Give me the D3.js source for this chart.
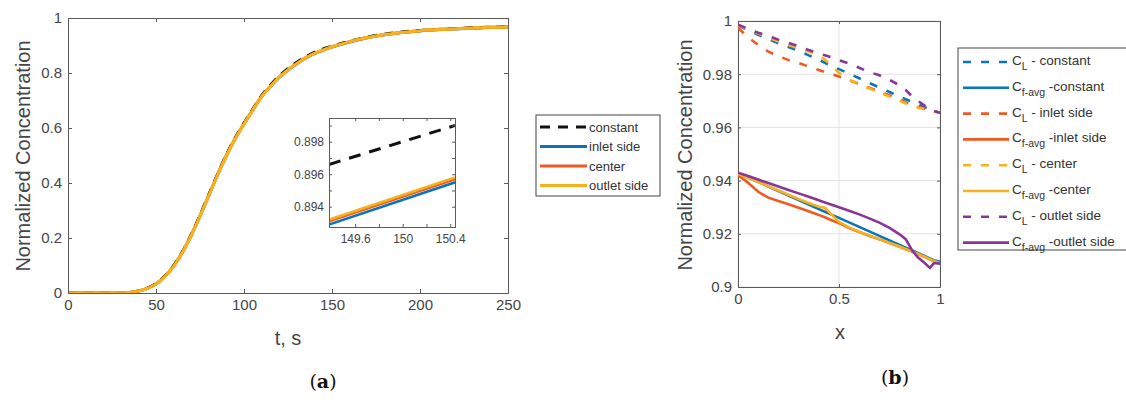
<!DOCTYPE html>
<html>
<head>
<meta charset="utf-8">
<script src="https://cdn.jsdelivr.net/npm/d3@7"></script>
<style>
  body { margin: 0; background: #fff; }
  svg { display: block; font-family: "Liberation Sans", Arial, sans-serif; }
</style>
</head>
<body>
<svg id="chart" width="1126" height="403"></svg>
<script>
"use strict";

// panel (a): breakthrough curves
var tSec = [0, 10, 20, 30, 35, 40, 45, 50, 55, 60, 65, 70, 75, 80, 85, 90, 95, 100, 105, 110, 115, 120, 125, 130, 135, 140, 145, 150, 160, 170, 180, 190, 200, 210, 220, 230, 240, 250];
var cConstant = [0, 0, 0, 0.0005, 0.002, 0.007, 0.018, 0.035, 0.062, 0.101, 0.151, 0.213, 0.284, 0.359, 0.434, 0.504, 0.566, 0.619, 0.670, 0.719, 0.757, 0.790, 0.817, 0.840, 0.860, 0.876, 0.888, 0.8977, 0.916, 0.931, 0.942, 0.950, 0.955, 0.959, 0.962, 0.965, 0.967, 0.968];
var cInlet = [0, 0, 0, 0.0005, 0.002, 0.007, 0.017, 0.033, 0.060, 0.098, 0.148, 0.210, 0.280, 0.355, 0.430, 0.500, 0.562, 0.615, 0.666, 0.714, 0.751, 0.784, 0.811, 0.834, 0.854, 0.870, 0.883, 0.8943, 0.913, 0.928, 0.939, 0.947, 0.953, 0.957, 0.960, 0.963, 0.965, 0.966];
var cCenter = [0, 0, 0, 0.0005, 0.002, 0.007, 0.017, 0.033, 0.060, 0.098, 0.148, 0.210, 0.280, 0.355, 0.430, 0.500, 0.562, 0.615, 0.666, 0.715, 0.752, 0.785, 0.812, 0.835, 0.855, 0.871, 0.884, 0.8952, 0.914, 0.929, 0.940, 0.948, 0.954, 0.958, 0.961, 0.964, 0.966, 0.967];
var cOutlet = [0, 0, 0, 0.0005, 0.002, 0.007, 0.017, 0.033, 0.060, 0.098, 0.148, 0.210, 0.280, 0.355, 0.430, 0.500, 0.562, 0.615, 0.666, 0.715, 0.752, 0.785, 0.812, 0.835, 0.855, 0.871, 0.884, 0.8955, 0.914, 0.929, 0.940, 0.948, 0.954, 0.958, 0.961, 0.964, 0.966, 0.967];

// zoomed inset around t = 150 s
var insetT = [149.38, 150.44];
var insetConstant = [0.8966, 0.8990];
var insetInlet = [0.8929, 0.8955];
var insetCenter = [0.8931, 0.8957];
var insetOutlet = [0.8932, 0.8958];

var seriesA = ["constant", "inlet side", "center", "outlet side"];
var ticksAx = [0, 50, 100, 150, 200, 250];
var ticksAy = [0, 0.2, 0.4, 0.6, 0.8, 1];
var ticksInsetX = [149.6, 149.8, 150, 150.2, 150.4];
var ticksInsetY = [0.894, 0.895, 0.896, 0.897, 0.898, 0.899];

// panel (b): profiles along x
var xPos = [0, 0.05, 0.1, 0.15, 0.2, 0.25, 0.3, 0.35, 0.4, 0.43, 0.46, 0.5, 0.55, 0.6, 0.65, 0.7, 0.75, 0.8, 0.83, 0.86, 0.89, 0.92, 0.95, 0.97, 1];
var clConstant = [0.9983, 0.9965, 0.9948, 0.9932, 0.9916, 0.9902, 0.9888, 0.9871, 0.9854, 0.9843, 0.9832, 0.9819, 0.9802, 0.9785, 0.9767, 0.9750, 0.9733, 0.9716, 0.9706, 0.9697, 0.9687, 0.9677, 0.9668, 0.9662, 0.9655];
var cfConstant = [0.9427, 0.9411, 0.9395, 0.9378, 0.9361, 0.9344, 0.9327, 0.9310, 0.9293, 0.9283, 0.9273, 0.9260, 0.9243, 0.9226, 0.9209, 0.9192, 0.9175, 0.9158, 0.9148, 0.9138, 0.9128, 0.9118, 0.9107, 0.9101, 0.9095];
var clInlet = [0.9975, 0.9938, 0.9910, 0.9885, 0.9868, 0.9853, 0.9842, 0.9829, 0.9816, 0.9808, 0.9801, 0.9791, 0.9777, 0.9763, 0.9749, 0.9735, 0.9721, 0.9706, 0.9695, 0.9686, 0.9678, 0.9671, 0.9665, 0.9661, 0.9655];
var cfInlet = [0.9421, 0.9392, 0.9358, 0.9336, 0.9323, 0.9311, 0.9298, 0.9285, 0.9271, 0.9262, 0.9252, 0.9240, 0.9222, 0.9207, 0.9193, 0.9179, 0.9165, 0.9151, 0.9142, 0.9133, 0.9124, 0.9114, 0.9104, 0.9097, 0.9088];
var clCenter = [0.9985, 0.9969, 0.9953, 0.9938, 0.9923, 0.9910, 0.9897, 0.9885, 0.9870, 0.9855, 0.9834, 0.9805, 0.9780, 0.9762, 0.9746, 0.9731, 0.9716, 0.9701, 0.9690, 0.9682, 0.9675, 0.9669, 0.9664, 0.9660, 0.9655];
var cfCenter = [0.9425, 0.9410, 0.9395, 0.9379, 0.9363, 0.9347, 0.9331, 0.9316, 0.9302, 0.9298, 0.9275, 0.9245, 0.9224, 0.9208, 0.9194, 0.9180, 0.9166, 0.9152, 0.9143, 0.9134, 0.9125, 0.9115, 0.9105, 0.9098, 0.9090];
var clOutlet = [0.9986, 0.9971, 0.9956, 0.9943, 0.9930, 0.9918, 0.9905, 0.9891, 0.9878, 0.9871, 0.9864, 0.9853, 0.9840, 0.9824, 0.9808, 0.9796, 0.9779, 0.9758, 0.9741, 0.9718, 0.9700, 0.9684, 0.9668, 0.9662, 0.9655];
var cfOutlet = [0.9430, 0.9417, 0.9404, 0.9391, 0.9378, 0.9365, 0.9352, 0.9339, 0.9326, 0.9318, 0.9310, 0.9300, 0.9287, 0.9273, 0.9258, 0.9242, 0.9222, 0.9198, 0.9180, 0.9140, 0.9112, 0.9093, 0.9072, 0.9090, 0.9088];

var seriesB = ["constant", "inlet side", "center", "outlet side"];
var ticksBx = [0, 0.5, 1];
var ticksBy = [0.9, 0.92, 0.94, 0.96, 0.98, 1];

var colors = ["#0b74bf", "#ee5a22", "#f7b11c", "#8a3598"];
var axisColor = "#5a5a5a";
var textColor = "#454545";

var svg = d3.select("#chart");

// box axes, MATLAB style: ticks pointing in on all four sides
function drawBox(g, x, y, xt, yt, opts) {
    var tl = opts.tickLen;

    if (opts.grid) {
        g.append("g").selectAll("line").data(xt).join("line")
            .attr("x1", function(d){return x(d);}).attr("x2", function(d){return x(d);})
            .attr("y1", y.range()[1]).attr("y2", y.range()[0])
            .attr("stroke", "#e3e3e3");
        g.append("g").selectAll("line").data(yt).join("line")
            .attr("y1", function(d){return y(d);}).attr("y2", function(d){return y(d);})
            .attr("x1", x.range()[0]).attr("x2", x.range()[1])
            .attr("stroke", "#e3e3e3");
    }

    var fmtX = opts.fmtX || function(d){return d;};
    var fmtY = opts.fmtY || function(d){return d;};

    var xaxes = [
        [d3.axisBottom(x).tickValues(xt).tickSize(-tl).tickFormat(fmtX), y.range()[0]],
        [d3.axisTop(x).tickValues(xt).tickSize(-tl).tickFormat(""), y.range()[1]]
    ];
    xaxes.forEach(function(a) {
        var ag = g.append("g").attr("transform", "translate(0," + a[1] + ")").call(a[0]);
        ag.select(".domain").attr("stroke", axisColor);
        ag.selectAll(".tick line").attr("stroke", axisColor);
        ag.selectAll(".tick text")
            .attr("fill", textColor)
            .attr("font-size", opts.fontSize)
            .attr("font-family", "Liberation Sans, Arial, sans-serif")
            .attr("dy", opts.xdy);
    });

    var yaxes = [
        [d3.axisLeft(y).tickValues(yt).tickSize(-tl).tickFormat(fmtY), x.range()[0]],
        [d3.axisRight(y).tickValues(yt).tickSize(-tl).tickFormat(""), x.range()[1]]
    ];
    yaxes.forEach(function(a) {
        var ag = g.append("g").attr("transform", "translate(" + a[1] + ",0)").call(a[0]);
        ag.select(".domain").attr("stroke", axisColor);
        ag.selectAll(".tick line").attr("stroke", axisColor);
        ag.selectAll(".tick text")
            .attr("fill", textColor)
            .attr("font-size", opts.fontSize)
            .attr("font-family", "Liberation Sans, Arial, sans-serif")
            .attr("x", -opts.ydx);
    });
}

function addClip(id, x, y) {
    svg.append("clipPath").attr("id", id)
        .append("rect")
        .attr("x", x.range()[0]).attr("y", y.range()[1])
        .attr("width", x.range()[1] - x.range()[0])
        .attr("height", y.range()[0] - y.range()[1]);
}

// ---------- panel (a) ----------
var xA = d3.scaleLinear().domain([0, 250]).range([68, 508]);
var yA = d3.scaleLinear().domain([0, 1]).range([293, 18]);
addClip("clipA", xA, yA);

var gA = svg.append("g");
var mainA = [cConstant, cInlet, cCenter, cOutlet];
var lineA = d3.line()
    .x(function(d){return xA(d[0]);})
    .y(function(d){return yA(d[1]);})
    .curve(d3.curveMonotoneX);

var plotA = gA.append("g").attr("clip-path", "url(#clipA)");
// solid lines first, the dashed reference on top of them
[1, 2, 3, 0].forEach(function(k) {
    plotA.append("path")
        .datum(tSec.map(function(t, i){return [t, mainA[k][i]];}))
        .attr("d", lineA)
        .attr("fill", "none")
        .attr("stroke", k === 0 ? "#111" : colors[k - 1])
        .attr("stroke-width", k === 0 ? 2.6 : 3)
        .attr("stroke-dasharray", k === 0 ? "9,7" : null);
});
// orange drawn again so it sits on top like in the figure
plotA.append("path")
    .datum(tSec.map(function(t, i){return [t, cOutlet[i]];}))
    .attr("d", lineA)
    .attr("fill", "none")
    .attr("stroke", colors[2])
    .attr("stroke-width", 3);

drawBox(gA, xA, yA, ticksAx, ticksAy, {tickLen: 4, fontSize: 15, xdy: "0.95em", ydx: 6});

gA.append("text")
    .attr("x", 288).attr("y", 345)
    .attr("text-anchor", "middle")
    .attr("font-size", 20).attr("fill", textColor)
    .text("t, s");
gA.append("text")
    .attr("transform", "translate(30,156) rotate(-90)")
    .attr("text-anchor", "middle")
    .attr("font-size", 20).attr("fill", textColor)
    .text("Normalized Concentration");

// inset
var xI = d3.scaleLinear().domain([149.38, 150.44]).range([329, 455]);
var yI = d3.scaleLinear().domain([0.89275, 0.89946]).range([227, 118]);
addClip("clipI", xI, yI);

var gI = svg.append("g");
gI.append("rect")
    .attr("x", 329).attr("y", 118).attr("width", 126).attr("height", 109)
    .attr("fill", "#fff");

var insetSeries = [insetInlet, insetCenter, insetOutlet, insetConstant];
var insetColors = [colors[0], colors[1], colors[2], "#111"];
var lineI = d3.line()
    .x(function(d){return xI(d[0]);})
    .y(function(d){return yI(d[1]);});
var plotI = gI.append("g").attr("clip-path", "url(#clipI)");
insetSeries.forEach(function(s, k) {
    plotI.append("path")
        .datum(insetT.map(function(t, i){return [t, s[i]];}))
        .attr("d", lineI)
        .attr("fill", "none")
        .attr("stroke", insetColors[k])
        .attr("stroke-width", k === 3 ? 3 : 2.6)
        .attr("stroke-dasharray", k === 3 ? "12,9" : null);
});

drawBox(gI, xI, yI, ticksInsetX, ticksInsetY, {
    tickLen: 3, fontSize: 12, xdy: "1.05em", ydx: 5,
    fmtX: function(d){return [149.6, 150, 150.4].indexOf(d) >= 0 ? d3.format("")(d) : "";},
    fmtY: function(d){return [0.894, 0.896, 0.898].indexOf(d) >= 0 ? d3.format(".3f")(d) : "";}
});

// legend (a)
var legA = svg.append("g").attr("transform", "translate(536,115)");
legA.append("rect")
    .attr("width", 124).attr("height", 81)
    .attr("fill", "#fff").attr("stroke", "#444");
seriesA.forEach(function(name, i) {
    var yy = 12 + i * 19.5;
    legA.append("line")
        .attr("x1", 4).attr("x2", 51).attr("y1", yy).attr("y2", yy)
        .attr("stroke", i === 0 ? "#111" : colors[i - 1])
        .attr("stroke-width", 3)
        .attr("stroke-dasharray", i === 0 ? "10,8" : null);
    legA.append("text")
        .attr("x", 53).attr("y", yy + 4.5)
        .attr("font-size", 13).attr("fill", "#333")
        .text(name);
});

// ---------- panel (b) ----------
var xB = d3.scaleLinear().domain([0, 1]).range([738, 940]);
var yB = d3.scaleLinear().domain([0.9, 1]).range([287, 21]);
addClip("clipB", xB, yB);

var gB = svg.append("g");
drawBox(gB, xB, yB, ticksBx, ticksBy, {tickLen: 3, fontSize: 15, xdy: "0.95em", ydx: 6, grid: true,
    fmtY: function(d){return d === 1 ? "1" : (d === 0.9 ? "0.9" : d3.format(".2f")(d));}});

var lineB = d3.line()
    .x(function(d){return xB(d[0]);})
    .y(function(d){return yB(d[1]);});
var profiles = [
    [clConstant, 0, true], [cfConstant, 0, false],
    [clInlet, 1, true], [cfInlet, 1, false],
    [clCenter, 2, true], [cfCenter, 2, false],
    [clOutlet, 3, true], [cfOutlet, 3, false]
];
var plotB = gB.append("g").attr("clip-path", "url(#clipB)");
profiles.forEach(function(p) {
    plotB.append("path")
        .datum(xPos.map(function(x, i){return [x, p[0][i]];}))
        .attr("d", lineB)
        .attr("fill", "none")
        .attr("stroke", colors[p[1]])
        .attr("stroke-width", 2.6)
        .attr("stroke-dasharray", p[2] ? "8,10" : null);
});

gB.append("text")
    .attr("x", 840).attr("y", 339)
    .attr("text-anchor", "middle")
    .attr("font-size", 20).attr("fill", textColor)
    .text("x");
gB.append("text")
    .attr("transform", "translate(692,155) rotate(-90)")
    .attr("text-anchor", "middle")
    .attr("font-size", 20).attr("fill", textColor)
    .text("Normalized Concentration");

// legend (b)
var legB = svg.append("g").attr("transform", "translate(958,48)");
legB.append("rect")
    .attr("width", 180).attr("height", 202)
    .attr("fill", "#fff").attr("stroke", "#444");
profiles.forEach(function(p, i) {
    var yy = 14 + i * 25.8;
    legB.append("line")
        .attr("x1", 5).attr("x2", 51).attr("y1", yy).attr("y2", yy)
        .attr("stroke", colors[p[1]])
        .attr("stroke-width", 2.6)
        .attr("stroke-dasharray", p[2] ? "8,10" : null);
    var t = legB.append("text")
        .attr("x", 54).attr("y", yy + 3)
        .attr("font-size", 13.5).attr("fill", "#333");
    t.append("tspan").text("C");
    t.append("tspan").attr("dy", 5).attr("font-size", 10.5).text(p[2] ? "L" : "f-avg");
    t.append("tspan").attr("dy", -5)
        .text(p[2] ? " - " + seriesB[p[1]] : " -" + seriesB[p[1]]);
});

// panel captions
function caption(x, y, letter) {
    var t = svg.append("text")
        .attr("x", x).attr("y", y)
        .attr("text-anchor", "middle")
        .attr("font-family", "DejaVu Serif, Liberation Serif, serif")
        .attr("font-size", 19).attr("fill", "#111");
    t.append("tspan").text("(");
    t.append("tspan").attr("font-weight", "bold").text(letter);
    t.append("tspan").text(")");
}
caption(323, 388, "a");
caption(895, 384, "b");
</script>
</body>
</html>
